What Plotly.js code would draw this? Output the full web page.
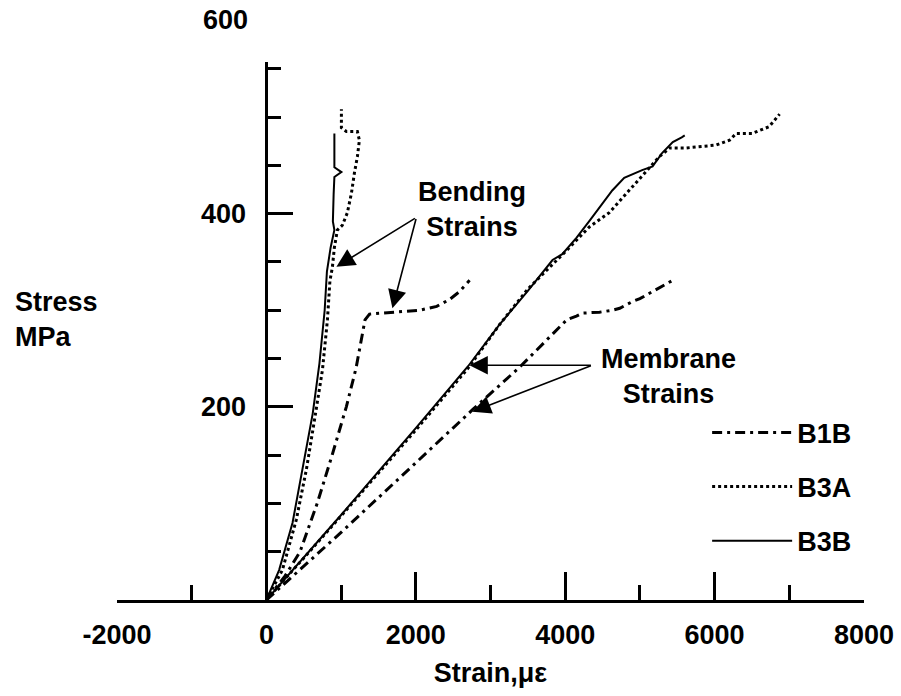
<!DOCTYPE html>
<html><head><meta charset="utf-8">
<script src="https://cdn.plot.ly/plotly-3.0.1.min.js"></script>
<style>html,body{margin:0;padding:0;background:#fff}</style>
</head><body><div id="chart" style="width:901px;height:696px"></div>
<script>
// ---- data (strain in microstrain, stress in MPa) ----
const seriesNames = ['B1B', 'B3A', 'B3B'];

const b1bBendStrain = [0, 250, 450, 680, 880, 1070, 1200, 1290, 1320, 1380, 1550, 1800, 2050, 2280, 2450, 2580, 2720];
const b1bBendStress = [0, 25, 50, 100, 150, 200, 240, 275, 290, 296, 297, 298, 300, 304, 311, 319, 331];
const b1bMembStrain = [0, 1000, 2000, 2760, 3390, 3920, 4020, 4150, 4230, 4460, 4630, 4730, 4900, 5000, 5260, 5440];
const b1bMembStress = [0, 70, 142, 197, 241, 282, 290, 294, 297, 298, 300, 302, 309, 312, 323, 331];

const b3aBendStrain = [0, 214, 400, 535, 643, 750, 817, 850, 884, 910, 950, 1017, 1084, 1138, 1178, 1218, 1245, 1218, 1071, 1004, 1004];
const b3aBendStress = [0, 31, 83, 135, 186, 238, 290, 330, 345, 365, 383, 388, 401, 421, 442, 459, 476, 485, 485, 489, 508];
const b3aMembStrain = [0, 1000, 2000, 2700, 3120, 3500, 4020, 4320, 4590, 4820, 5090, 5260, 5400, 5620, 6020, 6200, 6290, 6500, 6730, 6870];
const b3aMembStress = [0, 87, 176, 240, 285, 322, 362, 386, 401, 421, 445, 459, 468, 468, 471, 476, 483, 483, 490, 503];

const b3bBendStrain = [0, 170, 350, 480, 620, 710, 780, 810, 860, 910, 890, 900, 910, 1004, 910, 910];
const b3bBendStress = [0, 31, 80, 135, 193, 245, 300, 340, 365, 383, 392, 420, 438, 443, 448, 483];
const b3bMembStrain = [0, 1000, 2000, 2700, 3120, 3500, 3830, 3960, 4150, 4290, 4330, 4630, 4790, 5030, 5170, 5300, 5440, 5560, 5600];
const b3bMembStress = [0, 88, 178, 242, 285, 320, 352, 358, 375, 390, 393, 424, 437, 445, 449, 463, 474, 479, 481];

const xTickVals = [-2000, 0, 2000, 4000, 6000, 8000];
const xTickText = ['-2000', '0', '2000', '4000', '6000', '8000'];
const yTickVals = [200, 400];
const yTopLabel = '600';

// ---- build ----
const FONT = 'Liberation Sans, Arial, Helvetica, sans-serif';
function joined(a, b) { return a.concat([null], b); }

const styles = [
  {color: '#000', width: 3, dash: '10px,5px,3px,5px'},
  {color: '#000', width: 3, dash: '3px,3px'},
  {color: '#000', width: 2, dash: 'solid'}
];
const xs = [joined(b1bBendStrain, b1bMembStrain), joined(b3aBendStrain, b3aMembStrain), joined(b3bBendStrain, b3bMembStrain)];
const ys = [joined(b1bBendStress, b1bMembStress), joined(b3aBendStress, b3aMembStress), joined(b3bBendStress, b3bMembStress)];

const traces = seriesNames.map((n, i) => ({
  type: 'scatter', mode: 'lines', name: n, x: xs[i], y: ys[i],
  line: styles[i], connectgaps: false, legendgroup: n, hoverinfo: 'skip'
}));

const txt = {family: FONT, size: 27, color: '#000', weight: 700};
const arrow = {showarrow: true, arrowhead: 2, arrowsize: 2.3, arrowwidth: 1.6, arrowcolor: '#000',
  axref: 'x', ayref: 'y', xref: 'x', yref: 'y', text: ''};

const layout = {
  width: 901, height: 696,
  margin: {l: 117, r: 37, t: 62, b: 96},
  paper_bgcolor: '#fff', plot_bgcolor: '#fff',
  font: txt,
  showlegend: true,
  legend: {x: 0.79, y: 0.356, xanchor: 'left', yanchor: 'top', font: txt,
    itemwidth: 80, tracegroupgap: 16, bgcolor: 'rgba(0,0,0,0)'},
  xaxis: {range: [-2000, 8000], showgrid: false, zeroline: false, showline: true,
    linecolor: '#000', linewidth: 3, ticks: 'inside', ticklen: 28, tickwidth: 3, tickcolor: '#000',
    tickmode: 'array', tickvals: xTickVals, ticktext: xTickText, tickfont: txt, ticklabelstandoff: 9,
    minor: {dtick: 1000, tick0: 0, ticks: 'inside', ticklen: 15, tickwidth: 3, tickcolor: '#000'},
    title: {text: 'Strain,με', font: txt, standoff: 14}},
  yaxis: {range: [0, 557], showgrid: false, zeroline: false, showline: true,
    anchor: 'free', position: 0.2, side: 'left',
    linecolor: '#000', linewidth: 3, ticks: 'inside', ticklen: 25, tickwidth: 3, tickcolor: '#000',
    tickmode: 'array', tickvals: yTickVals, tickfont: txt, ticklabelstandoff: 14,
    minor: {dtick: 50, tick0: 0, ticks: 'inside', ticklen: 13, tickwidth: 3, tickcolor: '#000'}},
  annotations: [
    {xref: 'paper', yref: 'paper', x: 0.178, y: 1.078, text: yTopLabel, showarrow: false, xanchor: 'right', yanchor: 'middle', font: txt},
    {xref: 'paper', yref: 'y', x: -0.139, y: 290, text: 'Stress<br>MPa', showarrow: false, xanchor: 'left', align: 'left', font: txt},
    {xref: 'x', yref: 'y', x: 2758, y: 404, text: 'Bending<br>Strains', showarrow: false, font: txt},
    {xref: 'x', yref: 'y', x: 5380, y: 231, text: 'Membrane<br>Strains', showarrow: false, font: txt},
    Object.assign({}, arrow, {x: 937, y: 345, ax: 2008, ay: 396}),
    Object.assign({}, arrow, {x: 1687, y: 302, ax: 2008, ay: 396}),
    Object.assign({}, arrow, {x: 2718, y: 243, ax: 4364, ay: 243}),
    Object.assign({}, arrow, {x: 2758, y: 195, ax: 4364, ay: 243})
  ]
};

Plotly.newPlot('chart', traces, layout, {staticPlot: true, displayModeBar: false});
</script></body></html>
